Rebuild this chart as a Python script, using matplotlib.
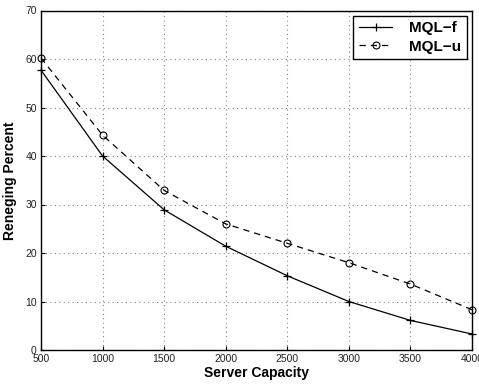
import matplotlib
matplotlib.use("Agg")
import matplotlib.pyplot as plt

capacity = [500, 1000, 1500, 2000, 2500, 3000, 3500, 4000]
mql_f = [57.7, 40.0, 28.9, 21.4, 15.3, 10.0, 6.1, 3.3]
mql_u = [60.2, 44.3, 32.9, 26.0, 22.0, 18.0, 13.6, 8.3]
xticks = [500, 1000, 1500, 2000, 2500, 3000, 3500, 4000]
yticks = [0, 10, 20, 30, 40, 50, 60, 70]

plt.rcParams['font.family'] = ['Liberation Sans', 'DejaVu Sans']

fig = plt.figure(figsize=(4.79, 3.85), dpi=100)
ax = fig.add_axes([41 / 479, 1 - 350 / 385, 431 / 479, 339.5 / 385])

ax.plot(capacity, mql_f, color='black', lw=0.9, marker='+', ms=6, mew=0.9,
        label='MQL\u2212f', clip_on=False)
ax.plot(capacity, mql_u, color='black', lw=0.9, ls=(0, (5, 4)), marker='o',
        ms=5, mfc='none', mew=0.8, label='MQL\u2212u', clip_on=False)

ax.set_xlim(500, 4000)
ax.set_ylim(0, 70)
ax.set_xticks(xticks)
ax.set_yticks(yticks)
ax.tick_params(labelsize=7.5, labelcolor='#222222', direction='in',
               length=3, width=0.8, pad=3)
ax.grid(True, color='#888888', ls=(0, (1, 3)), lw=0.8)
for s in ax.spines.values():
    s.set_linewidth(1.0)

ax.set_xlabel('Server Capacity', fontsize=10, fontweight='bold', labelpad=1)
ax.set_ylabel('Reneging Percent', fontsize=10, fontweight='bold', labelpad=6)

leg = ax.legend(loc='upper right', prop={'weight': 'bold', 'size': 11},
                frameon=True, fancybox=False, edgecolor='black',
                borderaxespad=0.35, handlelength=2.2, handletextpad=1.1,
                borderpad=0.35, labelspacing=0.3, framealpha=1)
leg.get_frame().set_linewidth(1.0)

fig.savefig('out.png', dpi=100)
